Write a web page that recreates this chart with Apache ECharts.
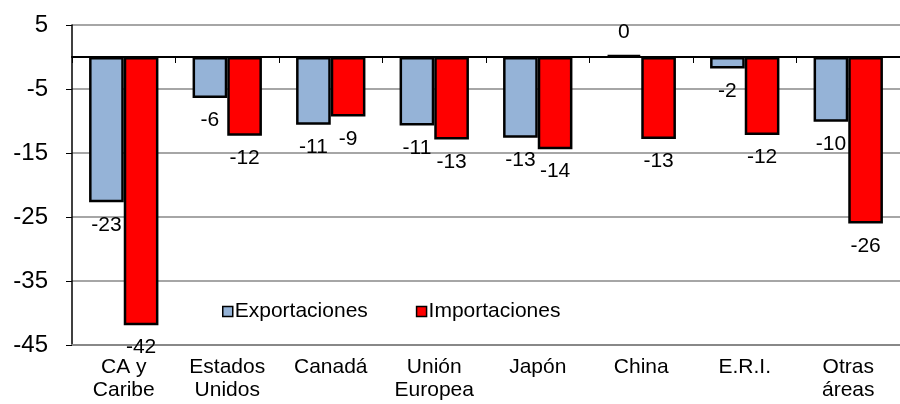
<!DOCTYPE html>
<html>
<head>
<meta charset="utf-8">
<script src="https://cdn.jsdelivr.net/npm/echarts@6/dist/echarts.min.js"></script>
<style>html,body{margin:0;padding:0;background:#fff}#c{width:900px;height:404px}</style>
</head>
<body>
<div id="c"></div>
<script>
const categories = ['CA y\nCaribe', 'Estados\nUnidos', 'Canadá', 'Unión\nEuropea', 'Japón', 'China', 'E.R.I.', 'Otras\náreas'];
const exportaciones = [-22.7, -6.4, -10.6, -10.7, -12.6, 0.3, -1.8, -10.1];
const importaciones = [-41.9, -12.3, -9.3, -12.9, -14.4, -12.8, -12.2, -26.0];
const yTicks = [5, -5, -15, -25, -35, -45];

const font = 'Liberation Sans, Arial, sans-serif';
function mkData(arr) {
  return arr.map(v => ({
    value: v,
    label: { position: v >= 0 ? 'top' : 'bottom' }
  }));
}
const labelCfg = {
  show: true, fontFamily: font, fontSize: 21, color: '#000', distance: 12,
  formatter: p => String(Math.round(p.value))
};
const chart = echarts.init(document.getElementById('c'));
chart.setOption({
  animation: false,
  grid: { left: 72, top: 25, width: 840, height: 320 },
  legend: {
    left: 217, top: 296, itemWidth: 10, itemHeight: 10, itemGap: 48,
    textStyle: { fontFamily: font, fontSize: 21, color: '#000', padding: [0, 0, 0, -3] },
    data: [
      { name: 'Exportaciones', icon: 'rect', itemStyle: { color: '#95B3D7', borderColor: '#000', borderWidth: 1.5 } },
      { name: 'Importaciones', icon: 'rect', itemStyle: { color: '#FF0000', borderColor: '#000', borderWidth: 1.5 } }
    ]
  },
  xAxis: [
    {
      type: 'category', data: categories, position: 'bottom',
      axisLine: { onZero: false, lineStyle: { color: '#888', width: 2 } },
      axisTick: { show: false },
      axisLabel: { fontFamily: font, fontSize: 21, color: '#000', lineHeight: 23, margin: 11, interval: 0 }
    },
    {
      type: 'category', data: categories, position: 'bottom',
      axisLine: { onZero: true, lineStyle: { color: '#000', width: 2 } },
      axisTick: { show: true, length: 6, lineStyle: { color: '#000', width: 1 } },
      axisLabel: { show: false }
    }
  ],
  yAxis: {
    type: 'value', min: -45, max: 5, interval: 10,
    axisLine: { show: true, lineStyle: { color: '#000', width: 1.5 } },
    axisTick: { show: true, length: 6, lineStyle: { color: '#000' } },
    axisLabel: { fontFamily: font, fontSize: 24, color: '#000', margin: 24,
      formatter: v => yTicks.includes(v) ? String(v) : '' },
    splitLine: { show: true, lineStyle: { color: '#888', width: 1.5 } }
  },
  series: [
    {
      name: 'Exportaciones', type: 'bar', xAxisIndex: 0, data: mkData(exportaciones),
      barGap: '0%', barCategoryGap: '33%',
      itemStyle: { color: '#95B3D7', borderColor: '#000', borderWidth: 2.5 },
      label: labelCfg
    },
    {
      name: 'Importaciones', type: 'bar', xAxisIndex: 0, data: mkData(importaciones),
      barGap: '0%', barCategoryGap: '33%',
      itemStyle: { color: '#FF0000', borderColor: '#000', borderWidth: 2.5 },
      label: labelCfg
    }
  ]
});
</script>
</body>
</html>
